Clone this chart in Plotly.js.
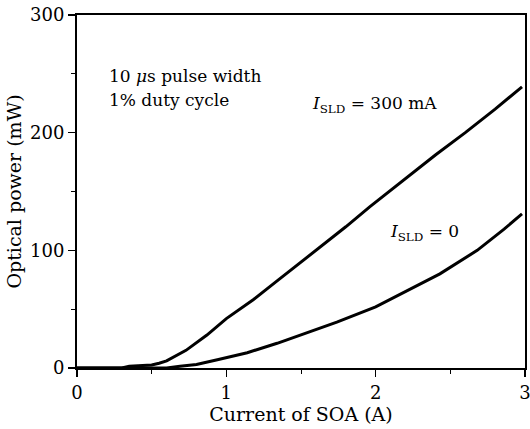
<!DOCTYPE html>
<html>
<head>
<meta charset="utf-8">
<script src="https://cdn.plot.ly/plotly-3.0.1.min.js"></script>
<style>html,body{margin:0;padding:0;background:#fff;}#chart{width:530px;height:429px;}</style>
</head>
<body>
<div id="chart"></div>
<script>
// SOA current (A) and optical power (mW), I_SLD = 300 mA
const currentHigh = [0, 0.30, 0.35, 0.50, 0.55, 0.60, 0.73, 0.87, 1.00, 1.18, 1.34, 1.54, 1.65, 1.80, 1.96, 2.16, 2.40, 2.60, 2.80, 2.98];
const powerHigh   = [0, 0, 1.5, 2.5, 4, 6, 15, 28, 42, 58, 74, 94, 105, 120, 137, 157, 181, 200, 220, 239];
// I_SLD = 0
const currentLow = [0, 0.60, 0.69, 0.80, 0.94, 1.14, 1.34, 1.56, 1.74, 2.00, 2.12, 2.43, 2.68, 2.86, 2.98];
const powerLow   = [0, 0, 1.5, 3, 7, 13, 21, 31, 39, 52, 60, 80, 100, 118, 131];

const xTicks = [0, 1, 2, 3];
const yTicks = [0, 100, 200, 300];

const font = 'DejaVu Serif, serif';
const traces = [
  {x: currentHigh, y: powerHigh, mode: 'lines', line: {color: '#000', width: 3}, hoverinfo: 'skip'},
  {x: currentLow, y: powerLow, mode: 'lines', line: {color: '#000', width: 3}, hoverinfo: 'skip'}
];
const axisCommon = {
  showline: true, linecolor: '#000', linewidth: 2, mirror: true,
  showgrid: false, zeroline: false, ticks: 'outside', ticklen: 7, tickwidth: 1.5, tickcolor: '#000',
  ticklabeloverflow: 'allow',
  tickfont: {family: font, size: 18, color: '#000'}
};
const layout = {
  width: 530, height: 429,
  margin: {l: 77, r: 5, t: 15, b: 61},
  paper_bgcolor: '#fff', plot_bgcolor: '#fff',
  showlegend: false,
  xaxis: Object.assign({}, axisCommon, {
    range: [0, 3], tickvals: xTicks, ticktext: xTicks.map(String),
    minor: {dtick: 0.5, ticks: 'outside', ticklen: 4, tickcolor: '#000', tickwidth: 1},
    title: {text: 'Current of SOA (A)', font: {family: font, size: 19, color: '#000'}, standoff: 6}
  }),
  yaxis: Object.assign({}, axisCommon, {
    range: [0, 300], tickvals: yTicks, ticktext: yTicks.map(String),
    minor: {dtick: 50, ticks: 'outside', ticklen: 4, tickcolor: '#000', tickwidth: 1},
    title: {text: 'Optical power (mW)', font: {family: font, size: 19, color: '#000'}, standoff: 3}
  }),
  annotations: [
    {x: 0.2, y: 248, xref: 'x', yref: 'y', xanchor: 'left', yanchor: 'middle', showarrow: false,
     text: '10 <i>μ</i>s pulse width', font: {family: font, size: 17, color: '#000'}},
    {x: 0.2, y: 228, xref: 'x', yref: 'y', xanchor: 'left', yanchor: 'middle', showarrow: false,
     text: '1% duty cycle', font: {family: font, size: 17, color: '#000'}},
    {x: 1.56, y: 224, xref: 'x', yref: 'y', xanchor: 'left', yanchor: 'middle', showarrow: false,
     text: '<i>I</i><sub>SLD</sub> = 300 mA', font: {family: font, size: 17, color: '#000'}},
    {x: 2.08, y: 115, xref: 'x', yref: 'y', xanchor: 'left', yanchor: 'middle', showarrow: false,
     text: '<i>I</i><sub>SLD</sub> = 0', font: {family: font, size: 17, color: '#000'}}
  ]
};
Plotly.newPlot('chart', traces, layout, {staticPlot: true, displayModeBar: false});
</script>
</body>
</html>
